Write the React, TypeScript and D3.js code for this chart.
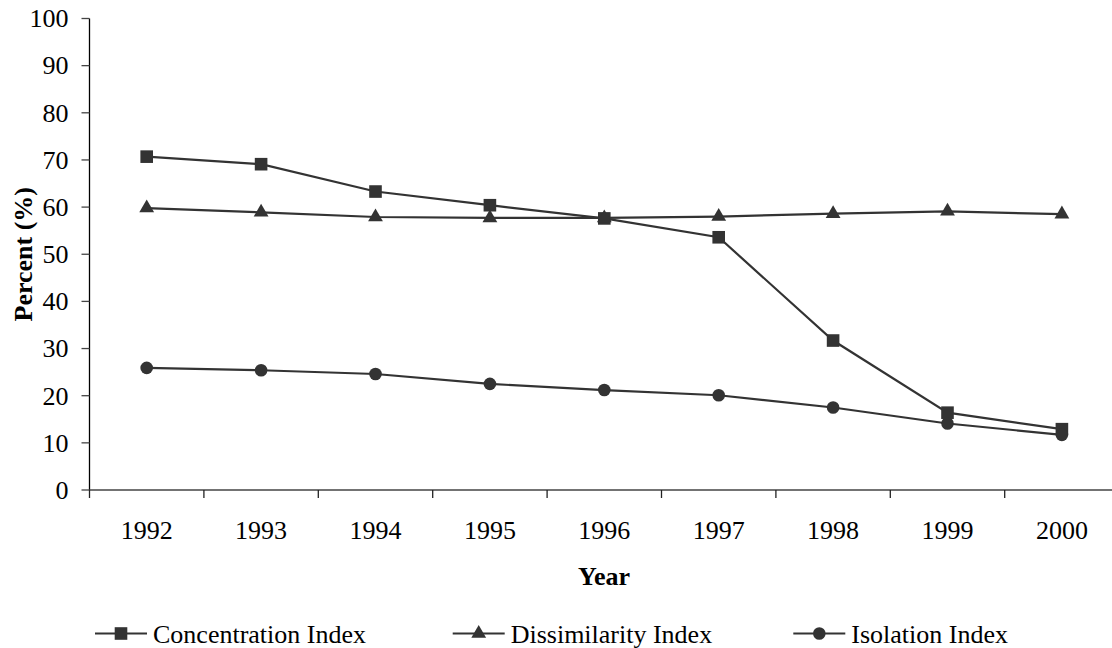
import React from "react";
import * as d3 from "d3";

const years = ["1992", "1993", "1994", "1995", "1996", "1997", "1998", "1999", "2000"];
const concentration = [70.7, 69.1, 63.3, 60.4, 57.6, 53.6, 31.7, 16.4, 12.9];
const dissimilarity = [59.8, 58.9, 57.9, 57.7, 57.7, 58.0, 58.6, 59.1, 58.5];
const isolation = [25.9, 25.4, 24.6, 22.5, 21.2, 20.1, 17.5, 14.1, 11.7];
const yTicks = [0, 10, 20, 30, 40, 50, 60, 70, 80, 90, 100];
const seriesNames = ["Concentration Index", "Dissimilarity Index", "Isolation Index"];

const W = 1112;
const H = 648;
const left = 89.5;
const top = 18.5;
const bottom = 490;
const step = 114.4;
const INK = "#333333";
const FONT = "Liberation Serif, Times New Roman, Times, serif";

function Marker({ kind, cx, cy }: { kind: string; cx: number; cy: number }) {
  if (kind === "square") {
    return <rect x={cx - 6.3} y={cy - 6.3} width={12.6} height={12.6} fill={INK} />;
  }
  if (kind === "triangle") {
    const sym = d3.symbol(d3.symbolTriangle, 95)();
    return <path d={sym || ""} transform={`translate(${cx},${cy})`} fill={INK} />;
  }
  return <circle cx={cx} cy={cy} r={6.3} fill={INK} />;
}

export default function App() {
  const x = d3.scaleBand<string>().domain(years).range([left, left + step * years.length]).padding(0);
  const y = d3.scaleLinear().domain([0, 100]).range([bottom, top]);
  const cx = (yr: string) => (x(yr) as number) + x.bandwidth() / 2;

  const series = [
    { name: seriesNames[0], values: concentration, kind: "square" },
    { name: seriesNames[1], values: dissimilarity, kind: "triangle" },
    { name: seriesNames[2], values: isolation, kind: "circle" },
  ];

  const line = d3
    .line<number>()
    .x((_, i) => cx(years[i]))
    .y((v) => y(v));

  const legendX = [95, 452.7, 793.3];
  const legendY = 633.5;
  const ts = { fontFamily: FONT };

  return (
    <svg
      width={W}
      height={H}
      style={{ position: "absolute", left: 0, top: 0, background: "#fff", fontFamily: FONT }}
    >
      <rect x={0} y={0} width={W} height={H} fill="#fff" />
      {/* Y axis */}
      <line x1={left} x2={left} y1={top} y2={bottom} stroke="#000" strokeWidth={1.3} />
      {yTicks.map((t) => (
        <g key={t}>
          <line x1={left - 8} x2={left} y1={y(t)} y2={y(t)} stroke="#444" strokeWidth={1.3} />
          <text x={68.5} y={y(t) + 8.8} textAnchor="end" fontSize={26} fill="#000" style={ts}>
            {t}
          </text>
        </g>
      ))}
      {/* X axis */}
      <line x1={left} x2={left + step * years.length} y1={bottom} y2={bottom} stroke="#444" strokeWidth={1.3} />
      {years.map((yr) => (
        <line
          key={"t" + yr}
          x1={x(yr) as number}
          x2={x(yr) as number}
          y1={bottom}
          y2={bottom + 8}
          stroke="#222"
          strokeWidth={1.3}
        />
      ))}
      {years.map((yr) => (
        <text key={"l" + yr} x={cx(yr)} y={538.5} textAnchor="middle" fontSize={26} fill="#000" style={ts}>
          {yr}
        </text>
      ))}
      <text x={604} y={585} textAnchor="middle" fontSize={26} fontWeight="bold" fill="#000" style={ts}>
        Year
      </text>
      <text
        transform={`translate(31.5, ${(top + bottom) / 2}) rotate(-90)`}
        textAnchor="middle"
        fontSize={26}
        fontWeight="bold"
        fill="#000"
        style={ts}
      >
        Percent (%)
      </text>
      {/* Series */}
      {series.map((s) => (
        <g key={s.name}>
          <path d={line(s.values) || ""} fill="none" stroke={INK} strokeWidth={2.2} />
          {s.values.map((v, i) => (
            <Marker key={i} kind={s.kind} cx={cx(years[i])} cy={y(v)} />
          ))}
        </g>
      ))}
      {/* Legend */}
      {series.map((s, i) => (
        <g key={"lg" + s.name}>
          <line
            x1={legendX[i]}
            x2={legendX[i] + 52}
            y1={legendY}
            y2={legendY}
            stroke={INK}
            strokeWidth={2.2}
          />
          <Marker kind={s.kind} cx={legendX[i] + 26} cy={legendY} />
          <text x={legendX[i] + 58} y={643.3} fontSize={26} fill="#000" style={ts}>
            {s.name}
          </text>
        </g>
      ))}
    </svg>
  );
}
